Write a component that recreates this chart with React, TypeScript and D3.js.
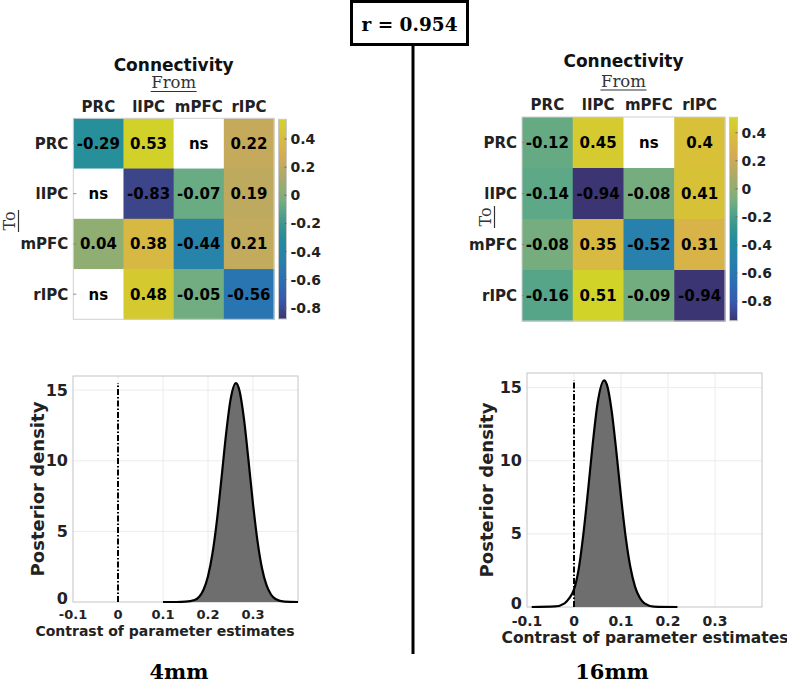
import * as d3 from "d3";

const regions = ["PRC", "lIPC", "mPFC", "rIPC"];

// rows = To, cols = From; null = not significant ("ns")
const conn4mm: (number | null)[][] = [
  [-0.29, 0.53, null, 0.22],
  [null, -0.83, -0.07, 0.19],
  [0.04, 0.38, -0.44, 0.21],
  [null, 0.48, -0.05, -0.56],
];
const conn16mm: (number | null)[][] = [
  [-0.12, 0.45, null, 0.4],
  [-0.14, -0.94, -0.08, 0.41],
  [-0.08, 0.35, -0.52, 0.31],
  [-0.16, 0.51, -0.09, -0.94],
];
const clim4mm: [number, number] = [-0.88, 0.54];
const clim16mm: [number, number] = [-0.94, 0.51];
const cbarTicks = [0.4, 0.2, 0, -0.2, -0.4, -0.6, -0.8];

const contrastTicks = [-0.1, 0, 0.1, 0.2, 0.3];
const densityTicks = [0, 5, 10, 15];

// posterior density
const post4mmX = [0.1, 0.13, 0.15, 0.17, 0.19, 0.2, 0.21, 0.22, 0.23, 0.24, 0.25, 0.262, 0.27, 0.28, 0.29, 0.3, 0.31, 0.32, 0.33, 0.34, 0.35, 0.37, 0.4];
const post4mmY = [0, 0, 0.02, 0.14, 0.87, 1.83, 3.45, 5.82, 8.77, 11.85, 14.31, 15.5, 14.96, 12.95, 10.03, 6.95, 4.31, 2.39, 1.19, 0.53, 0.21, 0.02, 0];
const post16mmX = [-0.09, -0.04, -0.02, -0.01, 0, 0.01, 0.02, 0.03, 0.04, 0.05, 0.064, 0.07, 0.08, 0.09, 0.1, 0.11, 0.12, 0.13, 0.14, 0.15, 0.17, 0.22];
const post16mmY = [0, 0.04, 0.25, 0.6, 1.2, 2.6, 5.0, 8.0, 11.2, 13.9, 15.5, 15.2, 13.44, 10.65, 7.55, 4.78, 2.72, 1.38, 0.63, 0.25, 0.03, 0];

// parula colormap samples
const parulaPos = [0, 6, 12, 19, 25, 32, 38, 44, 51, 57, 63].map((i) => i / 63);
const parulaCols = ["#352a87", "#2053d4", "#0d75dc", "#0c93d2", "#07a9c2", "#38b99e", "#7cbf7b", "#b7bd64", "#f1b94a", "#fad32a", "#f9fb0e"];

const SANS = "DejaVu Sans, Verdana, sans-serif";
const SERIF = "DejaVu Serif, serif";
const TXT = "#222";

function mute(c: string) {
  const h = d3.hsl(c);
  h.s *= 0.7;
  h.l *= 0.95;
  return h.formatHex();
}

function Heatmap(props: {
  values: (number | null)[][];
  clim: [number, number];
  x0: number; y0: number; x1: number; y1: number;
  cbarY0: number; cbarY1: number;
  titleY: number; fromY: number; colY: number;
  toX: number; toY: number;
  id: string;
}) {
  const { values, clim, x0, y0, x1, y1, cbarY0, cbarY1, id } = props;
  const x = d3.scaleBand().domain(regions).range([x0, x1]);
  const y = d3.scaleBand().domain(regions).range([y0, y1]);
  const frac = d3.scaleLinear().domain(parulaPos).range(parulaCols as any).interpolate(d3.interpolateRgb as any);
  const toFrac = d3.scaleLinear().domain(clim).range([0, 1]).clamp(true);
  const color = (v: number) => mute(frac(toFrac(v)) as any);
  const cb = d3.scaleLinear().domain(clim).range([cbarY1, cbarY0]);
  const cx = x1 + 4.5;
  const cw = 8;
  const cxm = (x0 + x1) / 2;
  const stops = d3.range(0, 1.0001, 0.05);
  return (
    <g>
      <defs>
        <linearGradient id={id} x1="0" y1="1" x2="0" y2="0">
          {stops.map((t) => (
            <stop key={t} offset={t} stopColor={mute(frac(t) as any)} />
          ))}
        </linearGradient>
      </defs>
      <text x={cxm} y={props.titleY} textAnchor="middle" fontFamily={SANS} fontWeight="bold" fontSize={17} fill="#111">Connectivity</text>
      <text x={cxm} y={props.fromY} textAnchor="middle" fontFamily={SERIF} fontSize={16.5} fill="#333">From</text>
      <line x1={cxm - 23} x2={cxm + 23} y1={props.fromY + 3.5} y2={props.fromY + 3.5} stroke="#333" strokeWidth={1.2} />
      <g transform={`translate(${props.toX},${props.toY}) rotate(-90)`}>
        <text x={0} y={0} textAnchor="middle" fontFamily={SERIF} fontSize={16} fill="#333">To</text>
        <line x1={-11} x2={11} y1={3.5} y2={3.5} stroke="#333" strokeWidth={1.2} />
      </g>
      {regions.map((r) => (
        <text key={"c" + r} x={x(r)! + x.bandwidth() / 2} y={props.colY} textAnchor="middle" fontFamily={SANS} fontWeight="bold" fontSize={15} fill={TXT}>{r}</text>
      ))}
      {regions.map((r) => (
        <text key={"r" + r} x={x0 - 5} y={y(r)! + y.bandwidth() / 2} dy="0.36em" textAnchor="end" fontFamily={SANS} fontWeight="bold" fontSize={15} fill={TXT}>{r}</text>
      ))}
      {values.map((row, i) =>
        row.map((v, j) => (
          <g key={i + "-" + j}>
            <rect x={x(regions[j])!} y={y(regions[i])!} width={x.bandwidth() + 0.5} height={y.bandwidth() + 0.5} fill={v === null ? "#fff" : color(v)} />
            <text x={x(regions[j])! + x.bandwidth() / 2} y={y(regions[i])! + y.bandwidth() / 2} dy="0.36em" textAnchor="middle" fontFamily={SANS} fontWeight="bold" fontSize={15} fill="#000">
              {v === null ? "ns" : String(v)}
            </text>
          </g>
        ))
      )}
      <rect x={x0} y={y0} width={x1 - x0} height={y1 - y0} fill="none" stroke="#d0d0d0" strokeWidth={1} />
      {regions.map((r) => (
        <line key={"t" + r} x1={x0} x2={x0 + 3} y1={y(r)! + y.bandwidth() / 2} y2={y(r)! + y.bandwidth() / 2} stroke="#888" />
      ))}
      <rect x={cx} y={cbarY0} width={cw} height={cbarY1 - cbarY0} fill={`url(#${id})`} stroke="#c8c8c8" strokeWidth={1} />
      {cbarTicks.map((t) => (
        <g key={t}>
          <line x1={cx + cw - 2} x2={cx + cw} y1={cb(t)} y2={cb(t)} stroke="#666" />
          <text x={cx + cw + 4} y={cb(t)} dy="0.36em" fontFamily={SANS} fontWeight="bold" fontSize={14} fill={TXT}>{String(t)}</text>
        </g>
      ))}
    </g>
  );
}

function Density(props: {
  xs: number[]; ys: number[];
  left: number; right: number; top: number; bottom: number;
  xTickSize: number; xTickY: number; xLabelSize: number; xLabelX: number; xLabelY: number;
  yLabelX: number;
}) {
  const { xs, ys, left, right, top, bottom } = props;
  const x = d3.scaleLinear().domain([-0.1, 0.4]).range([left, right]);
  const y = d3.scaleLinear().domain([0, 16]).range([bottom, top]);
  const pts: [number, number][] = xs.map((v, i) => [v, ys[i]]);
  const line = d3.line<[number, number]>().x((d) => x(d[0])).y((d) => y(d[1])).curve(d3.curveMonotoneX);
  const fillPts = pts.filter((d) => d[0] >= 0);
  const area = d3.area<[number, number]>().x((d) => x(d[0])).y0(y(0)).y1((d) => y(d[1])).curve(d3.curveMonotoneX);
  const peak = d3.max(ys)!;
  return (
    <g>
      {contrastTicks.slice(1).map((t) => (
        <line key={"gx" + t} x1={x(t)} x2={x(t)} y1={top} y2={bottom} stroke="#ececec" />
      ))}
      {densityTicks.slice(1).map((t) => (
        <line key={"gy" + t} x1={left} x2={right} y1={y(t)} y2={y(t)} stroke="#ececec" />
      ))}
      <rect x={left} y={top} width={right - left} height={bottom - top} fill="none" stroke="#c4c4c4" strokeWidth={1} />
      <path d={area(fillPts) || ""} fill="#6e6e6e" />
      <path d={line(pts) || ""} fill="none" stroke="#000" strokeWidth={2.2} />
      <line x1={x(0)} x2={x(0)} y1={y(0)} y2={y(peak)} stroke="#000" strokeWidth={2} strokeDasharray="6 2 1.5 2" />
      {densityTicks.map((t) => (
        <text key={"yt" + t} x={left - 5} y={y(t)} dy={t === 0 ? "0.1em" : "0.34em"} textAnchor="end" fontFamily={SANS} fontWeight="bold" fontSize={16} fill={TXT}>{String(t)}</text>
      ))}
      {contrastTicks.map((t) => (
        <text key={"xt" + t} x={x(t)} y={props.xTickY} textAnchor="middle" fontFamily={SANS} fontWeight="bold" fontSize={props.xTickSize} fill={TXT}>{String(t)}</text>
      ))}
      <text x={props.xLabelX} y={props.xLabelY} textAnchor="middle" fontFamily={SANS} fontWeight="bold" fontSize={props.xLabelSize} fill={TXT}>Contrast of parameter estimates</text>
      <text transform={`translate(${props.yLabelX},${(top + bottom) / 2}) rotate(-90)`} textAnchor="middle" dy="0.36em" fontFamily={SANS} fontWeight="bold" fontSize={18} fill={TXT}>Posterior density</text>
    </g>
  );
}

export default function App() {
  return (
    <svg width={787} height={683} style={{ position: "absolute", left: 0, top: 0, background: "#fff" }}>
      <rect x={0} y={0} width={787} height={683} fill="#fff" />
      <rect x={351.5} y={1.5} width={116} height={43} fill="#fff" stroke="#000" strokeWidth={3} />
      <text x={409.5} y={31} textAnchor="middle" fontFamily={SERIF} fontWeight="bold" fontSize={18.5} fill="#000">r = 0.954</text>
      <line x1={413} x2={413} y1={45} y2={654} stroke="#000" strokeWidth={3} />

      <Heatmap id="cb4" values={conn4mm} clim={clim4mm} x0={73.3} y0={118.3} x1={274} y1={319.3}
        cbarY0={119.3} cbarY1={319} titleY={70.5} fromY={88} colY={111.5} toX={15} toY={221} />
      <Heatmap id="cb16" values={conn16mm} clim={clim16mm} x0={522} y0={117} x1={725} y1={321}
        cbarY0={117.3} cbarY1={320.7} titleY={67} fromY={86.5} colY={109.5} toX={491} toY={217} />

      <Density xs={post4mmX} ys={post4mmY} left={73} right={298} top={376} bottom={602}
        xTickSize={13} xTickY={619} xLabelSize={14} xLabelX={165} xLabelY={636} yLabelX={38} />
      <Density xs={post16mmX} ys={post16mmY} left={527} right={762} top={373} bottom={607}
        xTickSize={14} xTickY={626} xLabelSize={15.5} xLabelX={645} xLabelY={643} yLabelX={487} />

      <text x={179} y={679} textAnchor="middle" fontFamily={SERIF} fontWeight="bold" fontSize={21} fill="#000">4mm</text>
      <text x={612} y={679} textAnchor="middle" fontFamily={SERIF} fontWeight="bold" fontSize={21} fill="#000">16mm</text>
    </svg>
  );
}
